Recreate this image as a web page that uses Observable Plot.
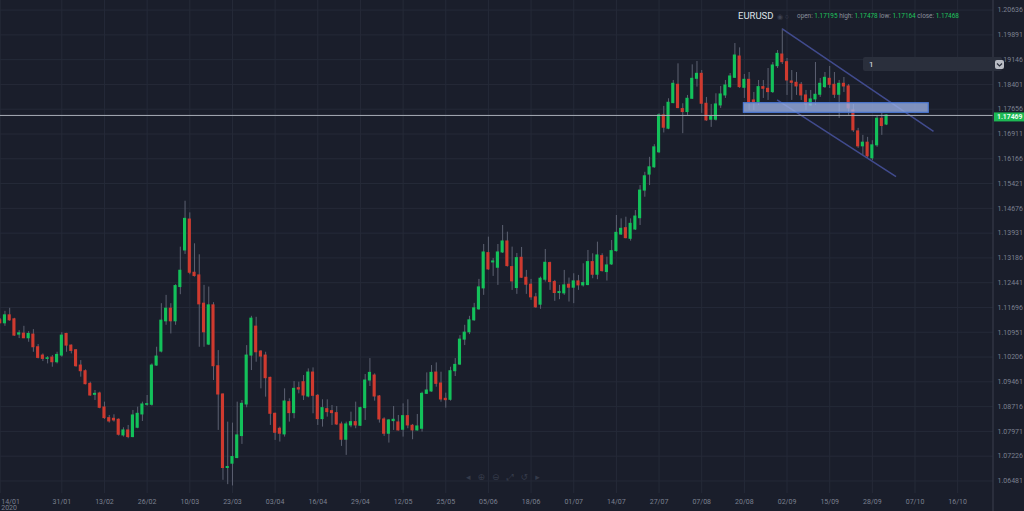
<!DOCTYPE html>
<html><head><meta charset="utf-8">
<script src="https://cdn.jsdelivr.net/npm/d3@7"></script>
<script src="https://cdn.jsdelivr.net/npm/@observablehq/plot@0.6"></script>
<style>
html,body{margin:0;padding:0;background:#1a1e2b;overflow:hidden;}
#wrap{position:relative;width:1024px;height:511px;}
</style></head><body><div id="wrap"></div>
<script>
// Daily EURUSD candles, bar index 0 = 14/01/2020
const OPEN=[1.1131,1.1122,1.1146,1.1134,1.1088,1.1091,1.1077,1.1088,1.1050,1.1025,
1.1015,1.1019,1.1005,1.1025,1.1090,1.1055,1.1041,1.0995,1.0978,1.0940,
1.0907,1.0911,1.0869,1.0837,1.0835,1.0832,1.0785,1.0800,1.0780,1.0808,
1.0848,1.0877,1.0877,1.0995,1.1037,1.1128,1.1166,1.1128,1.1231,1.1341,
1.1434,1.1274,1.1266,1.1181,1.1058,1.1176,1.0993,1.0908,1.0687,1.0700,
1.0717,1.0783,1.0878,1.1025,1.1112,1.1037,1.1025,1.0958,1.0850,1.0805,
1.0788,1.0885,1.0852,1.0927,1.0945,1.0902,1.0974,1.0904,1.0834,1.0864,
1.0858,1.0852,1.0818,1.0772,1.0815,1.0825,1.0814,1.0867,1.0950,1.0965,
1.0902,1.0833,1.0790,1.0828,1.0824,1.0802,1.0843,1.0814,1.0800,1.0805,
1.0910,1.0917,1.0974,1.0941,1.0895,1.0892,1.0978,1.0998,1.1073,1.1095,
1.1131,1.1164,1.1227,1.1333,1.1305,1.1289,1.1335,1.1368,1.1291,1.1228,
1.1319,1.1259,1.1238,1.1200,1.1178,1.1253,1.1303,1.1246,1.1213,1.1212,
1.1238,1.1229,1.1248,1.1236,1.1237,1.1306,1.1268,1.1324,1.1276,1.1299,
1.1339,1.1389,1.1408,1.1376,1.1404,1.1438,1.1521,1.1569,1.1591,1.1636,
1.1747,1.1707,1.1784,1.1839,1.1766,1.1757,1.1797,1.1857,1.1872,1.1782,
1.1734,1.1734,1.1777,1.1807,1.1832,1.1860,1.1924,1.1830,1.1854,1.1792,
1.1787,1.1832,1.1827,1.1817,1.1895,1.1930,1.1907,1.1849,1.1845,1.1839,
1.1807,1.1777,1.1795,1.1809,1.1832,1.1857,1.1839,1.1809,1.1842,1.1834,
1.1762,1.1699,1.1654,1.1665,1.1618,1.1657,1.1737,1.17195];
const HIGH=[1.1136,1.1158,1.1167,1.1137,1.1100,1.1113,1.1097,1.1103,1.1058,1.1030,
1.1022,1.1025,1.1035,1.1094,1.1092,1.1057,1.1043,1.1010,1.0982,1.0945,
1.0920,1.0915,1.0885,1.0845,1.0847,1.0835,1.0808,1.0815,1.0860,1.0870,
1.0885,1.0905,1.1000,1.1050,1.1181,1.1206,1.1181,1.1238,1.1351,1.1489,
1.1454,1.1361,1.1328,1.1236,1.1231,1.1184,1.1040,1.0910,1.0825,1.0822,
1.0885,1.0890,1.1055,1.1143,1.1140,1.1040,1.1035,1.0960,1.0852,1.0810,
1.0925,1.0895,1.0947,1.0945,1.0965,1.0985,1.0988,1.0908,1.0892,1.0892,
1.0875,1.0872,1.0825,1.0825,1.0855,1.0885,1.0870,1.0968,1.1016,1.0970,
1.0905,1.0838,1.0833,1.0872,1.0845,1.0880,1.0892,1.0818,1.0848,1.0915,
1.0973,1.0995,1.1003,1.0975,1.0912,1.0990,1.1016,1.1085,1.1116,1.1143,
1.1182,1.1254,1.1359,1.1381,1.1317,1.1359,1.1416,1.1396,1.1351,1.1332,
1.1350,1.1281,1.1254,1.1212,1.1261,1.1344,1.1306,1.1251,1.1236,1.1281,
1.1258,1.1271,1.1266,1.1301,1.1341,1.1331,1.1366,1.1331,1.1321,1.1371,
1.1446,1.1436,1.1441,1.1436,1.1461,1.1536,1.1576,1.1621,1.1659,1.1752,
1.1774,1.1797,1.1852,1.1902,1.1782,1.1807,1.1899,1.1909,1.1882,1.1801,
1.1780,1.1812,1.1834,1.1852,1.1873,1.1963,1.1950,1.1870,1.1876,1.1816,
1.1852,1.1852,1.1888,1.1906,1.1942,1.2007,1.1918,1.1882,1.1876,1.1846,
1.1822,1.1822,1.1906,1.1858,1.1876,1.1894,1.1876,1.1852,1.1861,1.1840,
1.1780,1.1708,1.1687,1.1681,1.1671,1.1744,1.1753,1.17478];
const LOW=[1.1121,1.1113,1.1128,1.1083,1.1076,1.1076,1.1065,1.1035,1.1015,1.1007,
1.1000,1.0990,1.1000,1.1020,1.1035,1.1030,1.0990,1.0960,1.0937,1.0903,
1.0890,1.0865,1.0833,1.0822,1.0825,1.0783,1.0780,1.0775,1.0778,1.0805,
1.0827,1.0873,1.0873,1.0993,1.1033,1.1116,1.1090,1.1116,1.1208,1.1329,
1.1268,1.1261,1.1050,1.1050,1.1055,1.0950,1.0800,1.0650,1.0637,1.0633,
1.0715,1.0758,1.0868,1.0980,1.1005,1.0925,1.0900,1.0815,1.0770,1.0765,
1.0780,1.0825,1.0835,1.0910,1.0890,1.0898,1.0850,1.0815,1.0810,1.0840,
1.0815,1.0815,1.0752,1.0725,1.0808,1.0805,1.0812,1.0830,1.0932,1.0888,
1.0822,1.0782,1.0762,1.0800,1.0798,1.0780,1.0805,1.0772,1.0798,1.0795,
1.0908,1.0915,1.0930,1.0885,1.0867,1.0888,1.0962,1.0995,1.1055,1.1088,
1.1128,1.1161,1.1206,1.1281,1.1263,1.1236,1.1332,1.1291,1.1221,1.1209,
1.1257,1.1209,1.1191,1.1167,1.1164,1.1246,1.1221,1.1188,1.1193,1.1206,
1.1186,1.1181,1.1221,1.1231,1.1235,1.1256,1.1253,1.1276,1.1249,1.1296,
1.1336,1.1386,1.1376,1.1369,1.1401,1.1416,1.1501,1.1536,1.1588,1.1632,
1.1694,1.1704,1.1782,1.1767,1.1692,1.1747,1.1795,1.1832,1.1753,1.1729,
1.1711,1.1730,1.1768,1.1798,1.1828,1.1858,1.1828,1.1798,1.1762,1.1762,
1.1777,1.1798,1.1792,1.1813,1.1888,1.1900,1.1807,1.1792,1.1807,1.1792,
1.1762,1.1774,1.1777,1.1801,1.1828,1.1828,1.1798,1.1738,1.1816,1.1747,
1.1696,1.1648,1.1626,1.1618,1.1611,1.1651,1.1687,1.17164];
const CLOSE=[1.1122,1.1146,1.1131,1.1085,1.1092,1.1077,1.1090,1.1050,1.1018,1.1015,
1.1017,1.1005,1.1027,1.1085,1.1055,1.1039,1.0993,1.0978,1.0939,1.0905,
1.0910,1.0868,1.0837,1.0827,1.0830,1.0787,1.0800,1.0780,1.0845,1.0850,
1.0878,1.0879,1.0995,1.1022,1.1130,1.1166,1.1128,1.1234,1.1280,1.1436,
1.1274,1.1264,1.1179,1.1095,1.1176,1.0993,1.0908,1.0687,1.0690,1.0720,
1.0785,1.0880,1.1025,1.1136,1.1035,1.1022,1.0957,1.0850,1.0793,1.0790,
1.0887,1.0852,1.0925,1.0923,1.0905,1.0974,1.0904,1.0834,1.0867,1.0855,
1.0852,1.0818,1.0772,1.0818,1.0825,1.0815,1.0867,1.0950,1.0973,1.0902,
1.0833,1.0790,1.0830,1.0832,1.0800,1.0843,1.0815,1.0800,1.0812,1.0910,
1.0920,1.0973,1.0940,1.0893,1.0891,1.0978,1.0997,1.1073,1.1094,1.1131,
1.1167,1.1230,1.1335,1.1284,1.1308,1.1335,1.1368,1.1294,1.1248,1.1318,
1.1259,1.1238,1.1200,1.1170,1.1256,1.1304,1.1246,1.1213,1.1216,1.1236,
1.1229,1.1248,1.1236,1.1243,1.1306,1.1268,1.1326,1.1279,1.1296,1.1339,
1.1394,1.1406,1.1378,1.1421,1.1443,1.1521,1.1564,1.1591,1.1651,1.1747,
1.1710,1.1785,1.1842,1.1769,1.1757,1.1797,1.1857,1.1872,1.1782,1.1732,
1.1744,1.1780,1.1810,1.1837,1.1864,1.1927,1.1832,1.1854,1.1787,1.1786,
1.1832,1.1827,1.1817,1.1897,1.1932,1.1907,1.1852,1.1845,1.1834,1.1807,
1.1780,1.1795,1.1809,1.1842,1.1860,1.1839,1.1809,1.1842,1.1834,1.1768,
1.1702,1.1654,1.1665,1.1624,1.1657,1.1737,1.1715,1.17468];

const xTickIndex=[13,22,31,40,49,58,67,76,85,94,103,112,121,130,139,148,157,166,175,184,193,202];
const xTickLabels=["31/01","13/02","26/02","10/03","23/03","03/04","16/04","29/04","12/05","25/05","05/06","18/06","01/07","14/07","27/07","07/08","20/08","02/09","15/09","28/09","07/10","16/10"];
const firstTick={i:0,label:"14/01",year:"2020"};
const priceTicks=[1.06481,1.07226,1.07971,1.08716,1.09461,1.10206,1.10951,1.11696,1.12441,1.13186,1.13931,1.14676,1.15421,1.16166,1.16911,1.17656,1.18401,1.19146,1.19891,1.20636];
const lastPrice=1.17469;
const symbol="EURUSD";
const ohlcLabels=[["open:","1.17195"],["high:","1.17478"],["low:","1.17164"],["close:","1.17468"]];
const channelLines=[{x1:165,y1:1.2007,x2:196.9,y2:1.1699},{x1:163.9,y1:1.1794,x2:189,y2:1.1563}];
const zone=[{x1:156.9,x2:195.9,y1:1.17837,y2:1.17548}];
const intervalValue="1";

const GREEN="#13c15a", RED="#cf3a2f", BG="#1a1e2b", GRID="#252a38";
const data=OPEN.map((o,i)=>({i,o,h:HIGH[i],l:LOW[i],c:CLOSE[i]}));
const labelOf=new Map(xTickIndex.map((d,k)=>[d,xTickLabels[k]]));

const chart=Plot.plot({
  width:1024,height:511,
  marginLeft:0,marginRight:31,marginTop:0,marginBottom:18,
  style:{background:BG,color:"#7b8090",fontFamily:"Roboto, 'Liberation Sans', sans-serif",fontSize:"7px",overflow:"visible"},
  x:{type:"linear",domain:[0.063,209.56]},
  y:{type:"linear",domain:[1.06104,1.20924]},
  marks:[
    Plot.gridX(xTickIndex.concat([0]),{stroke:GRID,strokeOpacity:1}),
    Plot.gridY(priceTicks,{stroke:GRID,strokeOpacity:1}),
    Plot.axisX(xTickIndex,{anchor:"bottom",tickSize:0,tickPadding:6,tickFormat:d=>labelOf.get(d),fill:"#7b8090"}),
    Plot.text([firstTick],{x:"i",frameAnchor:"bottom",text:d=>d.label+"\n"+d.year,textAnchor:"start",lineAnchor:"top",lineHeight:0.85,dy:6,dx:1,fill:"#7b8090"}),
    Plot.axisY(priceTicks,{anchor:"right",tickSize:0,tickPadding:4,tickFormat:d=>d.toFixed(5),fill:"#7b8090"}),
    Plot.ruleX(data,{x:"i",y1:"l",y2:"h",stroke:"#5c6171",strokeWidth:1}),
    Plot.rect(data,{x1:d=>d.i-0.33,x2:d=>d.i+0.33,y1:"o",y2:"c",fill:d=>d.c>=d.o?GREEN:RED,insetTop:-0.5,insetBottom:-0.5}),
    Plot.link(channelLines,{x1:"x1",y1:"y1",x2:"x2",y2:"y2",stroke:"#414b8e",strokeWidth:1.5}),
    Plot.rect(zone,{x1:"x1",x2:"x2",y1:"y1",y2:"y2",fill:"#98aee2",fillOpacity:0.8,stroke:"#4a78d4",strokeWidth:1.2}),
    Plot.ruleY([lastPrice],{stroke:"#a9aeb8",strokeWidth:1})
  ]
});
document.getElementById("wrap").appendChild(chart);

// overlays using the chart's own scales
const svg=d3.select(chart);
const xs=chart.scale("x"), ys=chart.scale("y");
const right=xs.range[1];
const ov=svg.append("g").attr("text-anchor","start").attr("font-family","Roboto, sans-serif");
ov.append("line").attr("x1",right).attr("x2",right).attr("y1",0).attr("y2",511).attr("stroke","#3a3f4e");
const py=ys.apply(lastPrice);
ov.append("rect").attr("x",right+1).attr("y",py-2.5).attr("width",31).attr("height",9).attr("fill","#1db954");
ov.append("text").attr("x",right+4).attr("y",py+4.5).attr("fill","#eaffef").attr("font-size","6.8px").attr("font-weight","bold").text(lastPrice.toFixed(5));

// header
ov.append("text").attr("x",738).attr("y",19).attr("fill","#dfe2e8").attr("font-size","9.5px").text(symbol);
ov.append("text").attr("x",777).attr("y",18.5).attr("fill","#3d4252").attr("font-size","7px").text("◉ ○");
const t=ov.append("text").attr("x",797).attr("y",18).attr("font-size","6.4px");
ohlcLabels.forEach(([k,v])=>{
  t.append("tspan").attr("fill","#8a8f9c").text(k+" ");
  t.append("tspan").attr("fill","#1fc45c").text(v+" ");
});

// interval box
ov.append("rect").attr("x",863).attr("y",57).attr("width",139).attr("height",14).attr("rx",2).attr("fill","#2a2f3c");
ov.append("text").attr("x",869).attr("y",67).attr("fill","#e3e6ec").attr("font-size","8px").text(intervalValue);
ov.append("rect").attr("x",995).attr("y",60).attr("width",9).attr("height",9).attr("rx",2).attr("fill","#b9bcc4");
ov.append("path").attr("d","M997,63.5 L999.5,66 L1002,63.5").attr("fill","none").attr("stroke","#2a2f3c").attr("stroke-width",1.2);

// faint toolbar icons
ov.append("text").attr("x",466).attr("y",480).attr("fill","#343a49").attr("font-size","9px").attr("font-family","DejaVu Sans").attr("letter-spacing","7px").text("◂⊕⊖⤢↺▸");
</script></body></html>
